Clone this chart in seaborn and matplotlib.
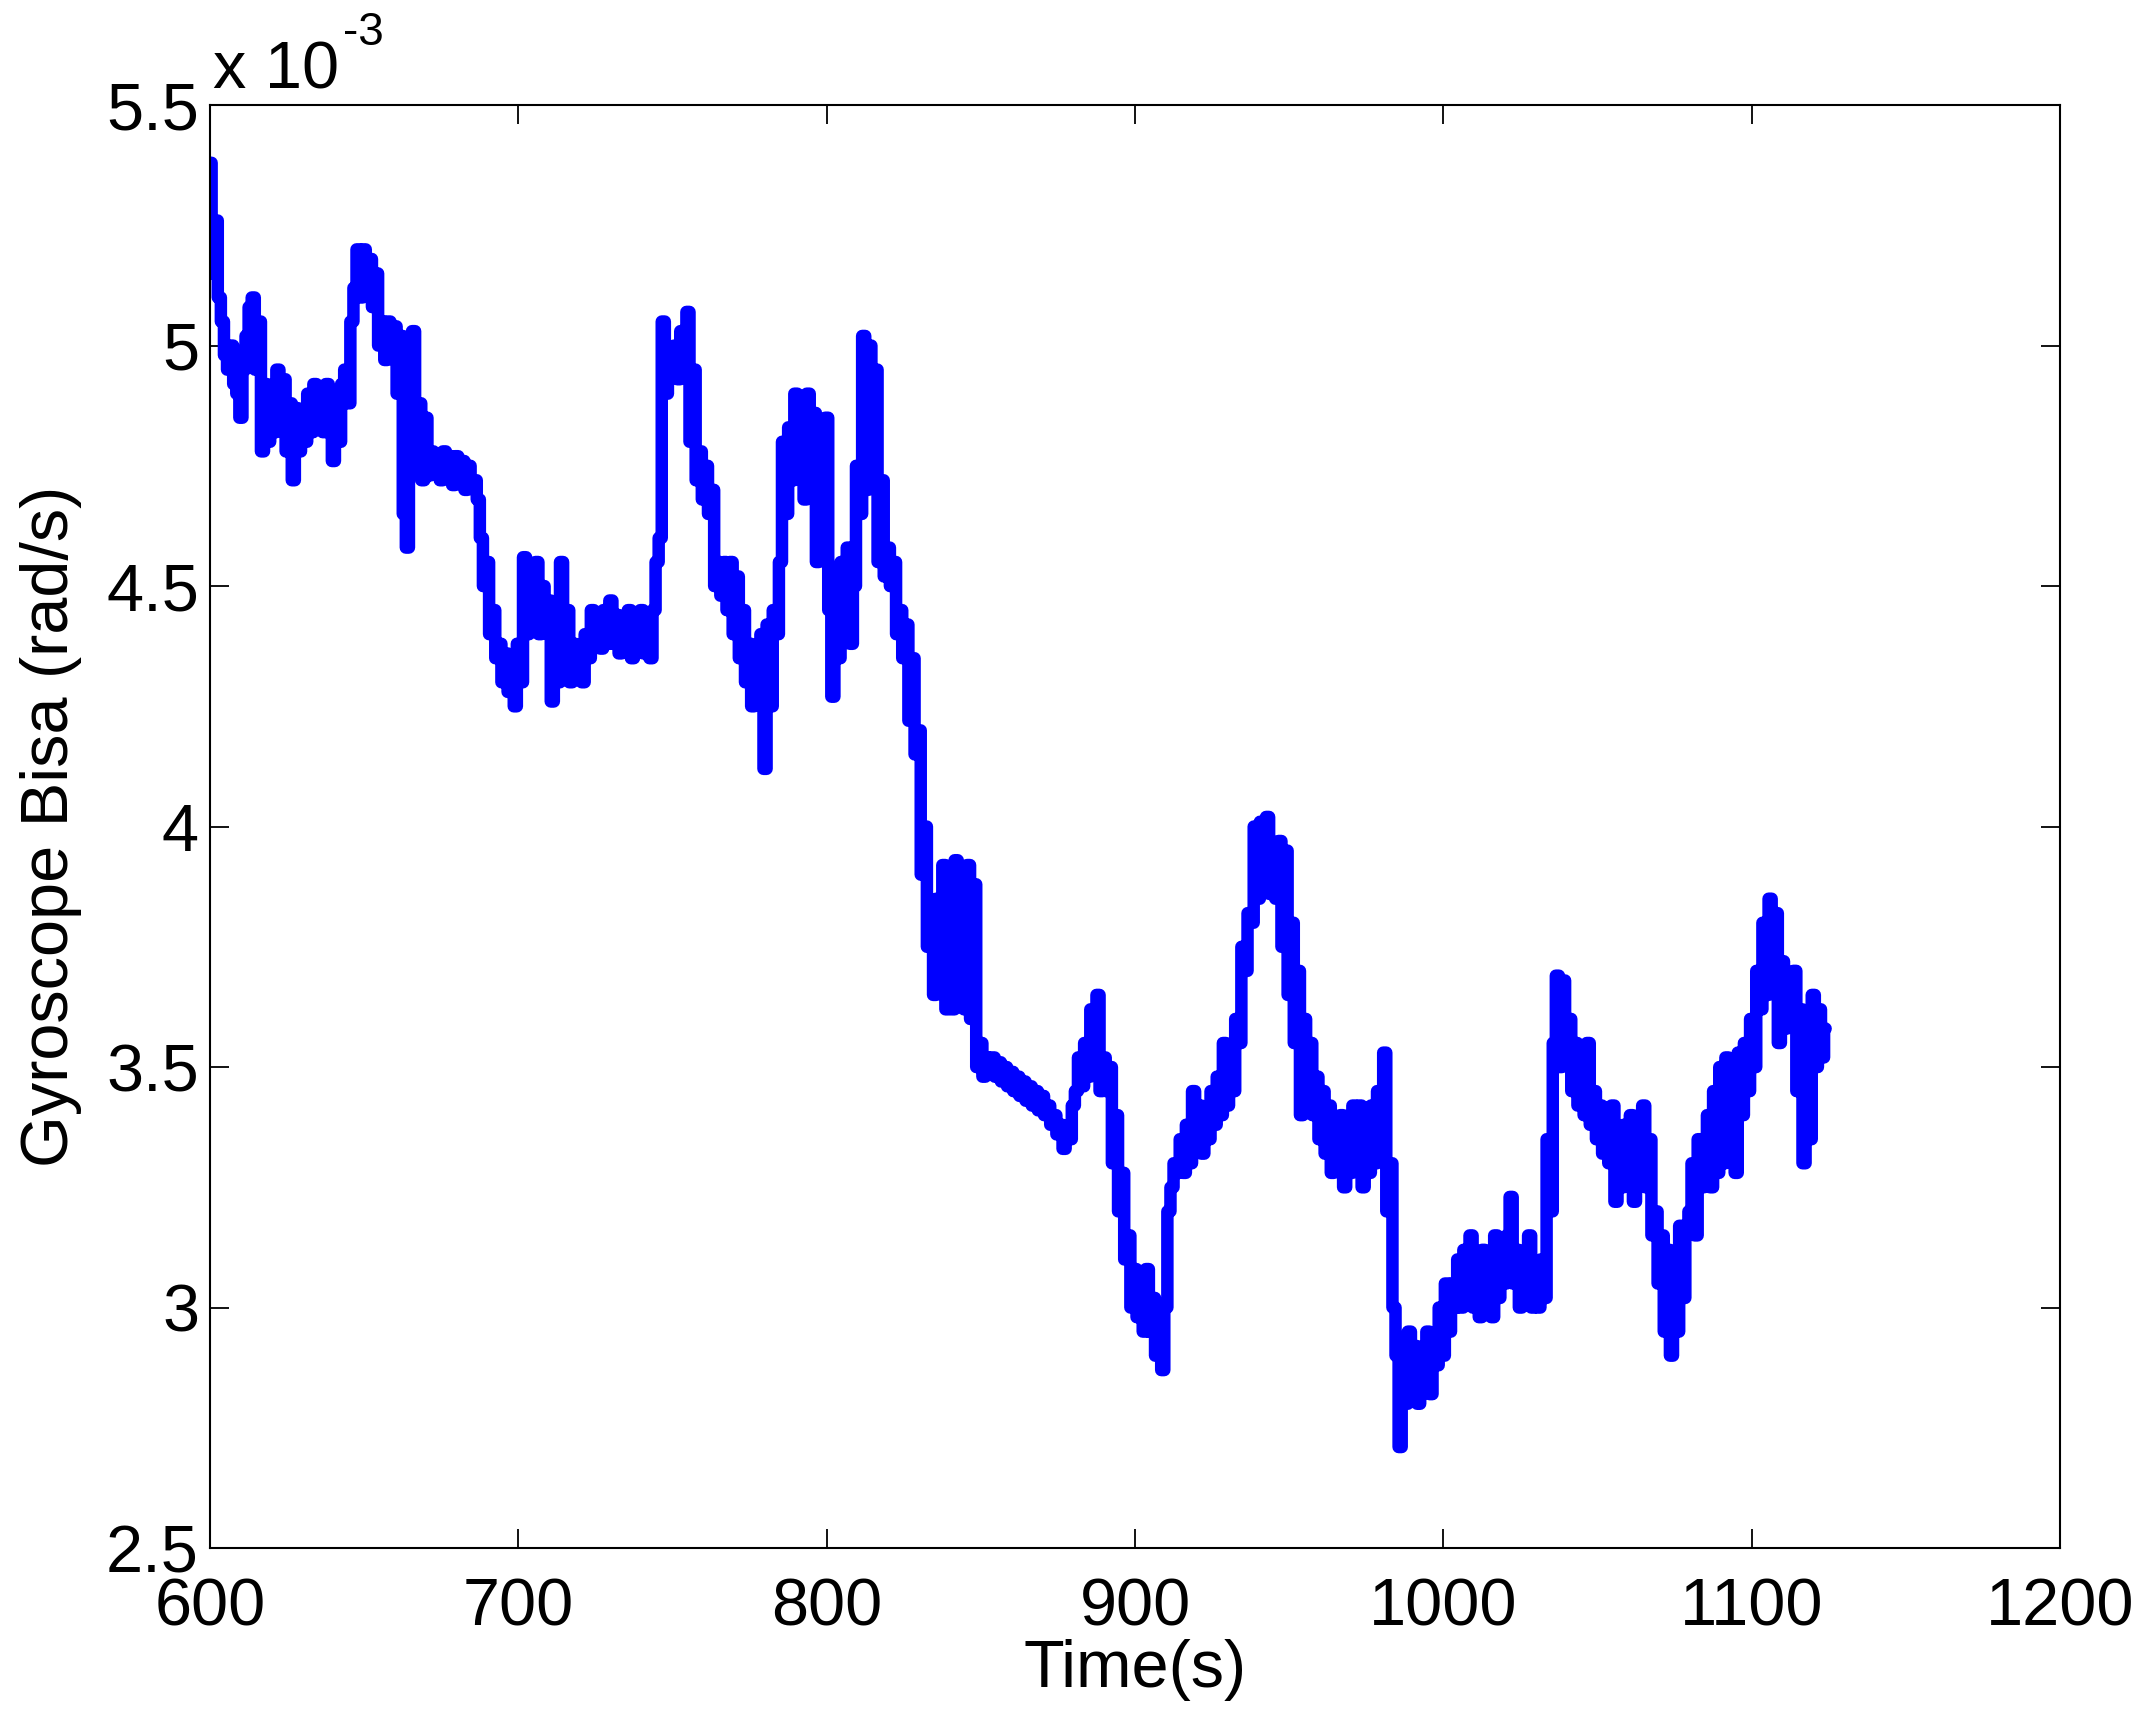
import numpy as np
import pandas as pd
import matplotlib
matplotlib.use("Agg")
import matplotlib.pyplot as plt
import seaborn as sns

# time axis (s), one reading per second
time_s = list(range(600, 1125))

# gyroscope bias in units of 1e-3 rad/s
bias_e3 = [
    5.38, 5.15, 5.26, 5.10, 5.05, 4.98, 4.95, 5.00, 4.92, 4.90,
    4.85, 4.95, 5.02, 5.08, 5.10, 4.95, 5.05, 4.78, 4.92, 4.80,
    4.90, 4.82, 4.95, 4.85, 4.93, 4.78, 4.88, 4.72, 4.87, 4.78,
    4.86, 4.80, 4.90, 4.82, 4.92, 4.85, 4.90, 4.82, 4.92, 4.86,
    4.76, 4.86, 4.80, 4.92, 4.95, 4.88, 5.05, 5.12, 5.20, 5.10,
    5.20, 5.15, 5.18, 5.08, 5.15, 5.00, 5.05, 4.97, 5.05, 4.98,
    5.04, 4.90, 5.02, 4.65, 4.58, 4.95, 5.03, 4.78, 4.88, 4.72,
    4.85, 4.73, 4.78, 4.74, 4.77, 4.72, 4.78, 4.73, 4.77, 4.71,
    4.77, 4.72, 4.76, 4.70, 4.75, 4.71, 4.72, 4.68, 4.60, 4.50,
    4.55, 4.40, 4.45, 4.35, 4.38, 4.30, 4.36, 4.28, 4.35, 4.25,
    4.38, 4.30, 4.56, 4.40, 4.53, 4.45, 4.55, 4.40, 4.50, 4.42,
    4.47, 4.26, 4.40, 4.30, 4.55, 4.35, 4.45, 4.30, 4.38, 4.32,
    4.36, 4.30, 4.40, 4.35, 4.45, 4.38, 4.42, 4.37, 4.45, 4.38,
    4.47, 4.38, 4.44, 4.36, 4.42, 4.38, 4.45, 4.35, 4.42, 4.38,
    4.45, 4.36, 4.43, 4.35, 4.45, 4.55, 4.60, 5.05, 4.90, 4.97,
    4.95, 5.00, 4.93, 5.03, 4.97, 5.07, 4.80, 4.95, 4.72, 4.78,
    4.68, 4.75, 4.65, 4.70, 4.50, 4.55, 4.48, 4.55, 4.45, 4.55,
    4.40, 4.52, 4.35, 4.45, 4.30, 4.38, 4.25, 4.35, 4.27, 4.40,
    4.12, 4.42, 4.25, 4.45, 4.40, 4.55, 4.80, 4.65, 4.83, 4.72,
    4.90, 4.75, 4.88, 4.68, 4.90, 4.78, 4.86, 4.55, 4.80, 4.60,
    4.85, 4.45, 4.27, 4.40, 4.35, 4.55, 4.45, 4.58, 4.38, 4.50,
    4.75, 4.65, 5.02, 4.70, 5.00, 4.80, 4.95, 4.55, 4.72, 4.52,
    4.58, 4.50, 4.55, 4.40, 4.45, 4.35, 4.42, 4.22, 4.35, 4.15,
    4.20, 3.90, 4.00, 3.75, 3.82, 3.65, 3.85, 3.68, 3.92, 3.62,
    3.90, 3.62, 3.93, 3.65, 3.90, 3.62, 3.92, 3.60, 3.88, 3.50,
    3.55, 3.48, 3.52, 3.49, 3.52, 3.48, 3.51, 3.47, 3.50, 3.46,
    3.49, 3.45, 3.48, 3.44, 3.47, 3.43, 3.46, 3.42, 3.45, 3.41,
    3.44, 3.40, 3.42, 3.38, 3.40, 3.36, 3.38, 3.33, 3.37, 3.35,
    3.42, 3.45, 3.52, 3.46, 3.55, 3.48, 3.62, 3.50, 3.65, 3.45,
    3.52, 3.45, 3.50, 3.30, 3.40, 3.20, 3.28, 3.10, 3.15, 3.00,
    3.08, 2.98, 3.05, 2.95, 3.08, 2.95, 3.02, 2.90, 2.98, 2.87,
    3.00, 3.20, 3.25, 3.30, 3.28, 3.35, 3.28, 3.38, 3.30, 3.45,
    3.35, 3.42, 3.32, 3.40, 3.35, 3.45, 3.38, 3.48, 3.40, 3.55,
    3.42, 3.50, 3.45, 3.60, 3.55, 3.75, 3.70, 3.82, 3.80, 4.00,
    3.85, 4.01, 3.88, 4.02, 3.86, 3.96, 3.85, 3.97, 3.75, 3.95,
    3.65, 3.80, 3.55, 3.70, 3.40, 3.60, 3.50, 3.55, 3.40, 3.48,
    3.35, 3.45, 3.32, 3.42, 3.28, 3.38, 3.30, 3.40, 3.25, 3.35,
    3.28, 3.42, 3.30, 3.42, 3.25, 3.38, 3.28, 3.42, 3.30, 3.45,
    3.40, 3.53, 3.20, 3.30, 3.00, 2.90, 2.71, 2.85, 2.80, 2.95,
    2.82, 2.92, 2.80, 2.90, 2.85, 2.95, 2.82, 2.92, 2.88, 3.00,
    2.90, 3.05, 2.95, 3.05, 3.00, 3.10, 3.00, 3.12, 3.02, 3.15,
    3.00, 3.10, 2.98, 3.12, 3.02, 3.08, 2.98, 3.15, 3.02, 3.12,
    3.05, 3.15, 3.23, 3.05, 3.12, 3.00, 3.10, 3.02, 3.15, 3.00,
    3.08, 3.00, 3.10, 3.02, 3.35, 3.20, 3.55, 3.69, 3.50, 3.68,
    3.52, 3.60, 3.45, 3.55, 3.42, 3.52, 3.40, 3.55, 3.38, 3.45,
    3.35, 3.42, 3.32, 3.40, 3.30, 3.42, 3.22, 3.35, 3.25, 3.38,
    3.30, 3.40, 3.22, 3.35, 3.28, 3.42, 3.25, 3.35, 3.15, 3.20,
    3.05, 3.15, 2.95, 3.12, 2.90, 3.05, 2.95, 3.17, 3.02, 3.15,
    3.20, 3.30, 3.15, 3.35, 3.25, 3.30, 3.40, 3.25, 3.45, 3.28,
    3.50, 3.30, 3.52, 3.35, 3.50, 3.28, 3.53, 3.40, 3.55, 3.45,
    3.60, 3.50, 3.70, 3.62, 3.80, 3.65, 3.85, 3.70, 3.82, 3.55,
    3.72, 3.58, 3.68, 3.60, 3.70, 3.45, 3.62, 3.30, 3.55, 3.35,
    3.65, 3.50, 3.62, 3.52, 3.58,
]

x_ticks = [600, 700, 800, 900, 1000, 1100, 1200]
y_ticks = [2.5, 3, 3.5, 4, 4.5, 5, 5.5]
x_label = "Time(s)"
y_label = "Gyroscope Bisa (rad/s)"

df = pd.DataFrame({"t": time_s, "b": bias_e3})

sns.set_style("ticks")
plt.rcParams["font.family"] = ["Liberation Sans", "DejaVu Sans"]

fig = plt.figure(figsize=(21.48, 17.17), dpi=100)
ax = fig.add_axes([0.0978, 0.0984, 0.8612, 0.8404])

sns.lineplot(data=df, x="t", y="b", ax=ax, color=(0, 0, 1), linewidth=9,
             estimator=None, sort=False, drawstyle="steps-mid",
             solid_capstyle="round", solid_joinstyle="round")

ax.set_xlim(600, 1200)
ax.set_ylim(2.5, 5.5)
ax.set_xticks(x_ticks)
ax.set_yticks(y_ticks)
ax.set_xticklabels([f"{v:g}" for v in x_ticks])
ax.set_yticklabels([f"{v:g}" for v in y_ticks])
ax.tick_params(axis="both", direction="in", length=14, width=1.3,
               labelsize=48, top=True, right=True, color="black",
               labelcolor="black")
ax.tick_params(axis="x", pad=21)
ax.tick_params(axis="y", pad=8)
for s in ax.spines.values():
    s.set_visible(True)
    s.set_linewidth(1.5)
    s.set_color("black")

ax.set_xlabel(x_label, fontsize=48, labelpad=0, color="black")
ax.set_ylabel(y_label, fontsize=48, labelpad=17, color="black")

ax.text(0.0016, 0.0118 + 1.0, "x 10", transform=ax.transAxes,
        fontsize=48, ha="left", va="baseline", color="black")
ax.text(0.072, 0.0416 + 1.0, "-3", transform=ax.transAxes,
        fontsize=33, ha="left", va="baseline", color="black")

fig.savefig("out.png", dpi=100, facecolor="white")
